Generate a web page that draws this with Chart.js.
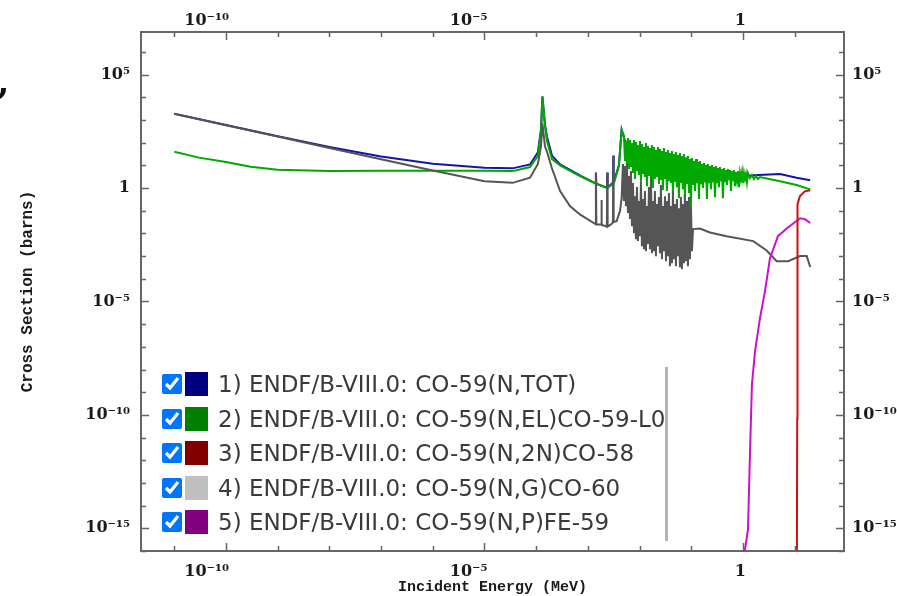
<!DOCTYPE html>
<html>
<head>
<meta charset="utf-8">
<script src="https://cdn.jsdelivr.net/npm/chart.js@4.4.1/dist/chart.umd.min.js"></script>
<style>
  html, body { margin: 0; padding: 0; background: #fff; }
  #wrap { position: relative; width: 897px; height: 596px; overflow: hidden; }
  #myChart { position: absolute; left: 0; top: 0; }
  #legend { position: absolute; left: 155px; top: 367px; width: 510px; height: 174px;
            border-right: 3px solid #b4b4b4; font-family: 'DejaVu Sans', sans-serif;
            font-size: 23px; color: #3a3a3a; overflow: hidden; }
  #legend .row { height: 34.5px; display: flex; align-items: center; padding-left: 7px; white-space: nowrap; }
  #legend input { width: 20px; height: 20px; margin: 0; flex: none; }
  #legend .sw { display: inline-block; width: 23px; height: 24px; margin-left: 3px; flex: none; }
  #legend .txt { margin-left: 10px; }
  #mark { position: absolute; left: -3px; top: 60px; font: bold 36px 'DejaVu Serif', serif; color: #111; }
</style>
</head>
<body>
<div id="wrap">
  <canvas id="myChart" width="897" height="596"></canvas>
  <div id="mark">,</div>
  <div id="legend"></div>
</div>
<script>
// axis ranges (MeV, barns)
var xMin = 2.27e-12, xMax = 90;
var yMin = 1e-16, yMax = 7.6e6;
// decade ticks, only some of them carry a label
var xTicks = [1e-11, 1e-10, 1e-9, 1e-8, 1e-7, 1e-6, 1e-5, 1e-4, 1e-3, 1e-2, 1e-1, 1, 10];
var xLabeled = [1e-10, 1e-5, 1];
var yTicks = [1e-16, 1e-15, 1e-14, 1e-13, 1e-12, 1e-11, 1e-10, 1e-9, 1e-8, 1e-7, 1e-6, 1e-5,
              1e-4, 1e-3, 1e-2, 1e-1, 1, 10, 100, 1e3, 1e4, 1e5, 1e6];
var yLabeled = [1e-15, 1e-10, 1e-5, 1, 1e5];

var labels = [
  '1) ENDF/B-VIII.0: CO-59(N,TOT)',
  '2) ENDF/B-VIII.0: CO-59(N,EL)CO-59-L0',
  '3) ENDF/B-VIII.0: CO-59(N,2N)CO-58',
  '4) ENDF/B-VIII.0: CO-59(N,G)CO-60',
  '5) ENDF/B-VIII.0: CO-59(N,P)FE-59'
];
var swatchColors = ['#000080', '#008000', '#800000', '#c0c0c0', '#800080'];
var lineColors = ['#1414a8', '#00a800', '#cc1010', '#555555', '#cc10cc'];

// [energy MeV, cross section barns]
var totXS = [[1e-11, 1910], [1e-10, 605], [1e-9, 193], [1e-8, 65], [1e-7, 24.5], [1e-6, 11.8],
  [1e-5, 7.8], [3.5e-5, 7.4], [7.6e-5, 11], [1.08e-4, 38], [1.24e-4, 400], [1.32e-4, 11000],
  [1.48e-4, 620], [1.62e-4, 180], [2.02e-4, 27], [2.9e-4, 11], [7.0e-4, 3.6], [1.40e-3, 1.6],
  [1.43e-3, 4.9], [1.46e-3, 1.55], [2.33e-3, 1.05], [2.37e-3, 4.9], [2.41e-3, 1.05], [3.05e-3, 1.7],
  [3.1e-3, 27], [3.15e-3, 1.8], [3.98e-3, 10], [4.5e-3, 370], [5.22e-3, 119], [6.52e-3, 88],
  [8.14e-3, 71], [1.017e-2, 65], [1.27e-2, 47.6], [1.59e-2, 38.8], [1.98e-2, 35], [2.48e-2, 35],
  [3.10e-2, 29], [3.87e-2, 26], [4.83e-2, 21], [6.04e-2, 19], [7.54e-2, 15.6], [9.42e-2, 12.7],
  [0.118, 10.4], [0.1475, 9.4], [0.230, 6.9], [0.359, 5.6], [0.5605, 4.6], [0.875, 3.4],
  [1.195, 3.4], [1.56, 3.65], [5.2, 4.15], [10.9, 2.85], [20, 2.2]];

var elXS = [[1e-11, 40], [3e-11, 22], [1e-10, 14], [3e-10, 8.8], [1e-9, 6.4], [1e-8, 5.7],
  [1e-7, 5.8], [1e-6, 5.8], [1e-5, 5.8], [3.5e-5, 5.6], [7.6e-5, 8.5], [1.08e-4, 26],
  [1.24e-4, 330], [1.32e-4, 10400], [1.48e-4, 550], [1.62e-4, 119], [2.02e-4, 19], [2.9e-4, 10],
  [7.0e-4, 3.4], [1.5e-3, 1.5], [2.35e-3, 1.0], [3.2e-3, 1.66], [3.98e-3, 9.4], [4.5e-3, 364],
  [4.99e-3, 198], [5.22e-3, 15.6], [5.45e-3, 119], [5.70e-3, 9.4], [5.96e-3, 161], [6.23e-3, 6.9],
  [6.52e-3, 132], [6.81e-3, 8.5], [7.12e-3, 97], [7.45e-3, 4.6], [7.79e-3, 132], [8.14e-3, 2.5],
  [8.51e-3, 107], [8.90e-3, 5.6], [9.30e-3, 79], [9.73e-3, 3.75], [1.017e-2, 119], [1.063e-2, 2.0],
  [1.11e-2, 88], [1.16e-2, 4.15], [1.215e-2, 65], [1.27e-2, 3.06], [1.33e-2, 97], [1.39e-2, 1.22],
  [1.45e-2, 71], [1.52e-2, 3.4], [1.59e-2, 58], [1.66e-2, 2.77], [1.735e-2, 79], [1.81e-2, 1.0],
  [1.90e-2, 65], [1.98e-2, 2.5], [2.07e-2, 47.6], [2.17e-2, 3.06], [2.27e-2, 65], [2.37e-2, 1.5],
  [2.48e-2, 53], [2.59e-2, 2.25], [2.71e-2, 43], [2.83e-2, 0.82], [2.96e-2, 58], [3.10e-2, 2.5],
  [3.24e-2, 38.8], [3.38e-2, 0.74], [3.54e-2, 47.6], [3.70e-2, 2.0], [3.87e-2, 35], [4.04e-2, 1.66],
  [4.23e-2, 43], [4.42e-2, 0.54], [4.62e-2, 32], [4.83e-2, 1.84], [5.05e-2, 38.8], [5.28e-2, 1.1],
  [5.52e-2, 29], [5.77e-2, 0.36], [6.04e-2, 35], [6.31e-2, 1.66], [6.60e-2, 26], [6.90e-2, 0.9],
  [7.21e-2, 32], [7.54e-2, 0.27], [7.88e-2, 23], [8.24e-2, 1.5], [8.62e-2, 26], [9.01e-2, 0.6],
  [9.42e-2, 19], [9.85e-2, 0.16], [0.103, 21], [0.108, 1.36], [0.113, 15.6], [0.118, 0.74],
  [0.1235, 19], [0.129, 1.66], [0.135, 14], [0.141, 0.33], [0.1475, 15.6], [0.154, 1.5],
  [0.161, 11.5], [0.1685, 1.0], [0.176, 12.7], [0.184, 1.84], [0.1925, 10.4], [0.201, 0.33],
  [0.210, 11.5], [0.220, 1.66], [0.230, 9.4], [0.2405, 0.9], [0.2515, 10.4], [0.263, 1.84],
  [0.275, 8.5], [0.2875, 0.4], [0.3005, 9.4], [0.314, 1.66], [0.3285, 7.6], [0.3435, 1.1],
  [0.359, 8.5], [0.3755, 2.0], [0.3925, 6.9], [0.410, 0.36], [0.429, 7.6], [0.4485, 1.84],
  [0.469, 6.2], [0.490, 1.36], [0.5125, 6.9], [0.536, 2.25], [0.5605, 6.2], [0.586, 0.74],
  [0.6125, 5.6], [0.6405, 2.0], [0.670, 6.2], [0.700, 1.22], [0.732, 5.1], [0.7655, 2.25],
  [0.800, 5.6], [0.837, 1.1], [0.875, 4.6], [0.915, 2.5], [0.957, 5.1], [1.0, 1.66], [1.0455, 4.6],
  [1.093, 2.5], [1.143, 4.15], [1.195, 1.84], [1.249, 4.6], [1.365, 2.77], [1.492, 3.75],
  [1.631, 2.5], [1.783, 3.4], [1.949, 2.5], [2.13, 3.06], [5.2, 2.0], [10.9, 1.36], [20, 0.88]];

var n2nXS = [[11.0, 1e-18], [11.2, 7e-11], [11.35, 0.19], [12.6, 0.44], [15.7, 0.72], [20, 0.8]];

var capXS = [[1e-11, 1870], [1e-10, 591], [1e-9, 187], [1e-8, 59], [1e-7, 18.7], [1e-6, 5.9],
  [1e-5, 2.0], [3.5e-5, 1.7], [7.6e-5, 2.85], [1.08e-4, 11.5], [1.24e-4, 70], [1.32e-4, 700],
  [1.48e-4, 70], [1.62e-4, 40], [2.0e-4, 7.9], [2.9e-4, 0.74], [4.5e-4, 0.16], [7.0e-4, 0.069],
  [1.40e-3, 0.026], [1.43e-3, 4.7], [1.46e-3, 0.025], [1.8e-3, 0.025], [1.83e-3, 0.3],
  [1.86e-3, 0.024], [2.33e-3, 0.02], [2.37e-3, 4.7], [2.41e-3, 0.02], [2.8e-3, 0.025],
  [3.05e-3, 0.03], [3.1e-3, 26], [3.15e-3, 0.032], [3.6e-3, 0.035], [4.2e-3, 0.1], [4.5e-3, 0.37],
  [4.77e-3, 11.5], [4.99e-3, 0.27], [5.22e-3, 9.4], [5.45e-3, 0.16], [5.70e-3, 11.5], [5.96e-3, 0.079],
  [6.23e-3, 3.4], [6.52e-3, 0.043], [6.81e-3, 5.6], [7.12e-3, 0.021], [7.45e-3, 1.66], [7.79e-3, 0.0103],
  [8.14e-3, 0.44], [8.51e-3, 5.6e-3], [8.90e-3, 1.1], [9.30e-3, 4.6e-3], [9.73e-3, 0.27],
  [1.017e-2, 7.6e-3], [1.063e-2, 2.0], [1.11e-2, 2.75e-3], [1.16e-2, 0.33], [1.215e-2, 2.0e-3],
  [1.27e-2, 0.74], [1.33e-2, 1.66e-3], [1.39e-2, 0.16], [1.45e-2, 3.4e-3], [1.52e-2, 1.1],
  [1.59e-2, 2.0e-3], [1.66e-2, 3.06], [1.735e-2, 1.35e-3], [1.81e-2, 0.27], [1.90e-2, 1.66e-3],
  [1.98e-2, 0.74], [2.07e-2, 1.0e-3], [2.17e-2, 0.2], [2.27e-2, 2.75e-3], [2.37e-2, 0.4],
  [2.48e-2, 1.35e-3], [2.59e-2, 1.36], [2.71e-2, 7.3e-4], [2.83e-2, 0.16], [2.96e-2, 1.66e-3],
  [3.10e-2, 0.44], [3.24e-2, 6.0e-4], [3.38e-2, 0.27], [3.54e-2, 1.0e-3], [3.70e-2, 0.6],
  [3.87e-2, 3.6e-4], [4.04e-2, 0.16], [4.23e-2, 4.9e-4], [4.42e-2, 0.74], [4.62e-2, 7.3e-4],
  [4.83e-2, 0.2], [5.05e-2, 3.6e-4], [5.28e-2, 0.33], [5.52e-2, 1.0e-3], [5.77e-2, 0.13],
  [6.04e-2, 3.25e-4], [6.31e-2, 0.4], [6.60e-2, 2.65e-4], [6.90e-2, 0.2], [7.21e-2, 4.9e-4],
  [7.54e-2, 0.54], [7.88e-2, 6.0e-4], [8.24e-2, 0.27], [8.62e-2, 3.6e-4], [9.01e-2, 0.4],
  [9.42e-2, 7.3e-4], [9.85e-2, 0.16], [0.103, 1.66e-3], [0.108, 0.0155], [0.147, 0.0166],
  [0.23, 0.011], [0.484, 7.6e-3], [1.58, 4.6e-3], [2.87, 1.78e-3], [4.49, 6.0e-4], [7.5, 6.0e-4],
  [12.7, 1.0e-3], [17.1, 1.0e-3], [20, 3.3e-4]];

var npXS = [[0.93, 1e-17], [1.25, 8.7e-16], [1.37, 2.4e-12], [1.49, 2.2e-9], [1.71, 6.3e-8],
  [2.13, 1.8e-6], [2.66, 2.8e-5], [3.33, 8.1e-4], [4.75, 7.6e-3], [7.1, 0.0171], [12.7, 0.047],
  [15.8, 0.043], [20, 0.029]];

var series = [totXS, elXS, n2nXS, capXS, npXS];
// higher order is drawn first (further back)
var drawOrder = [5, 4, 1, 3, 2];

// legend (html, sits inside the plot area)
var legendBox = document.getElementById('legend');
labels.forEach(function (label, i) {
  var row = document.createElement('div');
  row.className = 'row';
  row.innerHTML = '<input type="checkbox" checked><span class="sw" style="background:' +
    swatchColors[i] + '"></span><span class="txt">' + label + '</span>';
  legendBox.appendChild(row);
});

var sup = { '-': '\u207B', '0': '\u2070', '1': '\u00B9', '2': '\u00B2', '3': '\u00B3', '4': '\u2074',
  '5': '\u2075', '6': '\u2076', '7': '\u2077', '8': '\u2078', '9': '\u2079' };
function powLabel(v, list) {
  var hit = list.some(function (t) { return Math.abs(Math.log10(t) - Math.log10(v)) < 1e-6; });
  if (!hit) return '';
  var e = Math.round(Math.log10(v));
  if (e === 0) return '1';
  return '10' + String(e).split('').map(function (c) { return sup[c]; }).join('');
}

var tickFont = { family: "'DejaVu Serif', serif", size: 16, weight: 'bold' };

function xAxis(pos, size) {
  return {
    type: 'logarithmic', position: pos, min: xMin, max: xMax, bounds: 'data',
    grid: { display: false, drawTicks: false },
    border: { display: true, color: '#666', width: 2 },
    afterBuildTicks: function (s) { s.ticks = xTicks.map(function (v) { return { value: v }; }); },
    afterFit: function (s) { s.height = size; },
    ticks: {
      autoSkip: false, maxRotation: 0, align: 'end', labelOffset: 3,
      padding: pos === 'top' ? 2 : 11, color: '#1a1a1a', font: tickFont,
      callback: function (v) { return powLabel(v, xLabeled); }
    }
  };
}
function yAxis(pos, size) {
  return {
    type: 'logarithmic', position: pos, min: yMin, max: yMax, bounds: 'data',
    grid: { display: false, drawTicks: false },
    border: { display: true, color: '#666', width: 2 },
    afterBuildTicks: function (s) { s.ticks = yTicks.map(function (v) { return { value: v }; }); },
    afterFit: function (s) { s.width = size; },
    ticks: {
      autoSkip: false, padding: pos === 'left' ? 11 : 8, color: '#1a1a1a', font: tickFont,
      callback: function (v) { return powLabel(v, yLabeled); }
    }
  };
}

// tick marks point into the plot
var innerTicks = {
  id: 'innerTicks',
  afterDraw: function (chart) {
    var ctx = chart.ctx, a = chart.chartArea;
    ctx.save();
    ctx.strokeStyle = '#666';
    ctx.lineWidth = 1.5;
    ctx.beginPath();
    ['x', 'x2', 'y', 'y2'].forEach(function (id) {
      var s = chart.scales[id];
      s.ticks.forEach(function (t) {
        var len = t.label ? 8 : 5;
        var p = Math.round(s.getPixelForValue(t.value)) + 0.5;
        if (id === 'x') { ctx.moveTo(p, a.bottom); ctx.lineTo(p, a.bottom - len); }
        if (id === 'x2') { ctx.moveTo(p, a.top); ctx.lineTo(p, a.top + len); }
        if (id === 'y') { ctx.moveTo(a.left, p); ctx.lineTo(a.left + len, p); }
        if (id === 'y2') { ctx.moveTo(a.right, p); ctx.lineTo(a.right - len, p); }
      });
    });
    ctx.stroke();
    ctx.restore();
  }
};

var titleFamily = "'Liberation Mono', 'DejaVu Sans Mono', monospace";

var config = {
  type: 'line',
  data: {
    datasets: series.map(function (s, i) {
      return {
        label: labels[i],
        data: s.map(function (p) { return { x: p[0], y: p[1] }; }),
        borderColor: lineColors[i],
        borderWidth: 2,
        pointRadius: 0,
        tension: 0,
        fill: false,
        order: drawOrder[i]
      };
    })
  },
  options: {
    responsive: false,
    animation: false,
    layout: { padding: 0 },
    plugins: { legend: { display: false }, tooltip: { enabled: false } },
    scales: {
      x: Object.assign(xAxis('bottom', 45), {
        title: { display: true, text: 'Incident Energy (MeV)', color: '#1a1a1a',
                 font: { family: titleFamily, size: 15, weight: 'bold' },
                 padding: { top: 0, bottom: 0 } }
      }),
      x2: xAxis('top', 32),
      y: Object.assign(yAxis('left', 141), {
        title: { display: true, text: 'Cross Section (barns)', color: '#1a1a1a',
                 font: { family: titleFamily, size: 16, weight: 'bold' },
                 padding: { top: 18, bottom: 0 } }
      }),
      y2: yAxis('right', 53)
    }
  },
  plugins: [innerTicks]
};

var myChart = new Chart(document.getElementById('myChart'), config);
</script>
</body>
</html>
